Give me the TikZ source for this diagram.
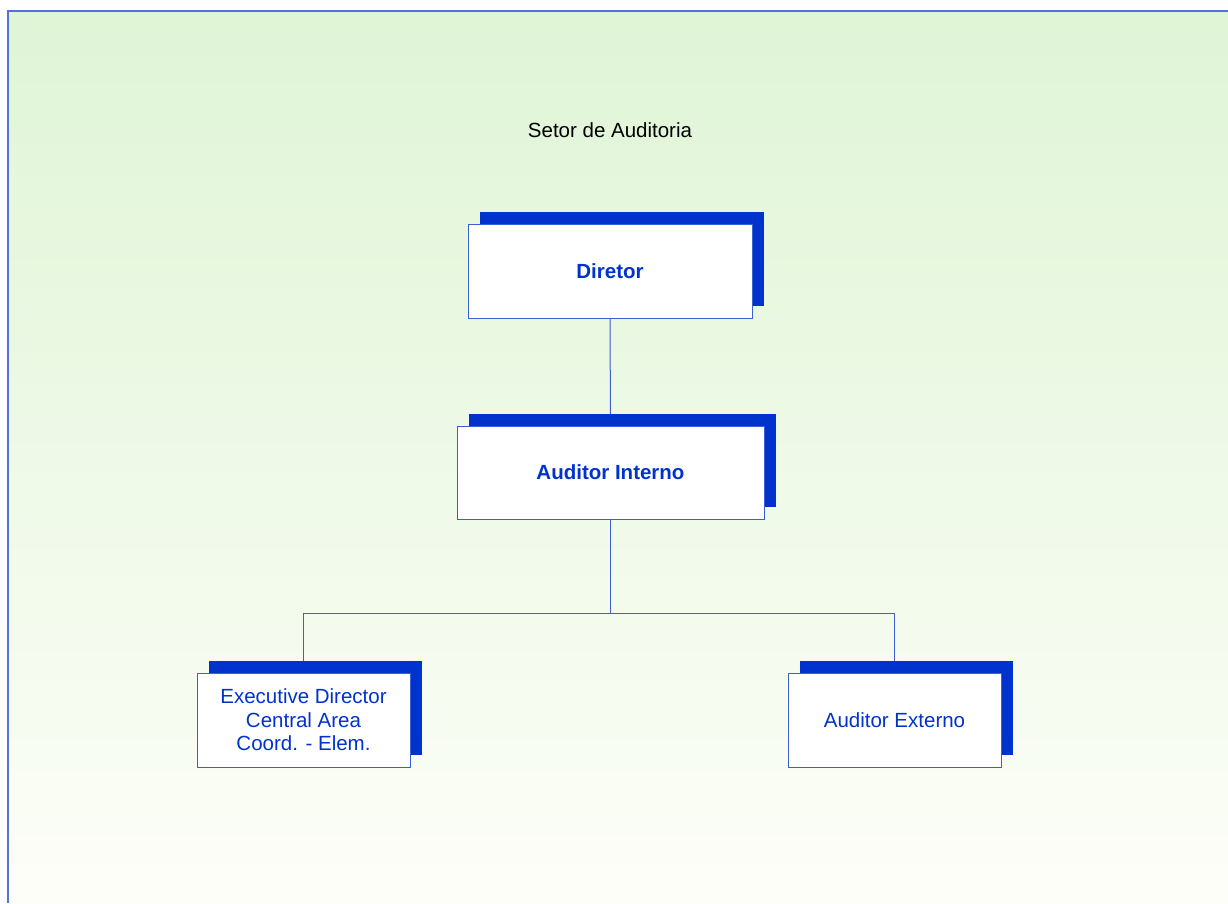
\documentclass[tikz,border=0pt]{standalone}
\usepackage{fontspec}
\setmainfont{Liberation Sans}
\usetikzlibrary{shadows,backgrounds}
\definecolor{orgblue}{HTML}{0033CC}
\definecolor{edgeblue}{HTML}{3A5FD6}
\definecolor{frameblue}{HTML}{5572DA}
\definecolor{bgtop}{HTML}{DFF5D6}
\definecolor{bgbottom}{HTML}{FDFEF8}
\tikzset{
  orgbox/.style={draw=edgeblue, line width=1pt, fill=white, text=orgblue,
    align=center, inner sep=0pt,
    font=\fontsize{20.5}{23.5}\selectfont,
    general shadow={fill=orgblue, shadow xshift=12pt, shadow yshift=12.5pt}},
  link/.style={draw=edgeblue, line width=1pt}
}
\begin{document}
\begin{tikzpicture}[x=1pt,y=-1pt]
\useasboundingbox (0,0) rectangle (1228,903);

\node[font=\fontsize{20.5}{23.5}\selectfont] (title) at (610,130) {Setor de Auditoria};

\node[orgbox, minimum width=284pt, minimum height=94pt, font=\fontsize{20.5}{23.5}\selectfont\bfseries] (dir) at (610,271) {Diretor};
\node[orgbox, minimum width=307pt, minimum height=93pt, font=\fontsize{20.5}{23.5}\selectfont\bfseries] (ai) at (610.5,472.5) {Auditor Interno};
\node[orgbox, minimum width=213pt, minimum height=94pt] (ed) at (303.5,720) {Executive Director\\Central Area\\Coord. - Elem.};
\node[orgbox, minimum width=213pt, minimum height=94pt] (ext) at (894.5,720) {Auditor Externo};

\begin{pgfonlayer}{background}
  % page background with its frame
  \shade[top color=bgtop, bottom color=bgbottom] (8,11) rectangle (1228,903);
  \draw[frameblue, line width=2pt] (8,903) -- (8,11) -- (1228,11);
  % reporting lines, kept behind the boxes and their shadows
  \coordinate (bus) at (610.5,613);
  \draw[link] (dir.south) -- (ai.north);
  \draw[link] (ai.south) -- (bus) -| (ed.north);
  \draw[link] (bus) -| (ext.north);
\end{pgfonlayer}
\end{tikzpicture}
\end{document}
